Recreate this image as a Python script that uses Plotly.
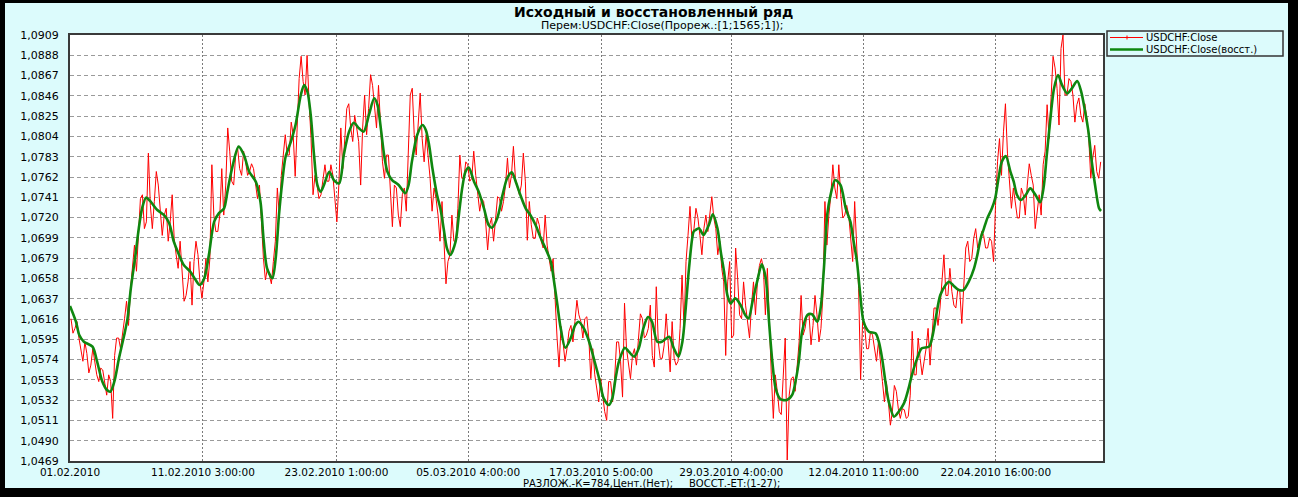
import plotly.graph_objects as go

# ---------------- data ----------------
x_tick_vals = [0, 201, 403, 602, 803, 1000, 1200, 1400]
x_tick_text = ["01.02.2010", "11.02.2010 3:00:00", "23.02.2010 1:00:00", "05.03.2010 4:00:00",
               "17.03.2010 5:00:00", "29.03.2010 4:00:00", "12.04.2010 11:00:00", "22.04.2010 16:00:00"]
y_tick_text = ["1,0469", "1,0490", "1,0511", "1,0532", "1,0553", "1,0574", "1,0595", "1,0616",
               "1,0637", "1,0658", "1,0679", "1,0699", "1,0720", "1,0741", "1,0762", "1,0783",
               "1,0804", "1,0825", "1,0846", "1,0867", "1,0888", "1,0909"]
y_min, y_max = 1.0469, 1.0909
x_max = 1562

# red series (USDCHF:Close): bins every 6 hourly points, upper / lower extent of the hourly trace
red_idx = list(range(3, 3 + 6 * 260, 6))
red_hi = [
    1.0616, 1.0613, 1.0596, 1.0592, 1.0580, 1.0585, 1.0572, 1.0565, 1.0563, 1.0558,
    1.0551, 1.0596, 1.0596, 1.0616, 1.0634, 1.0668, 1.0692, 1.0740, 1.0744, 1.0787,
    1.0733, 1.0768, 1.0754, 1.0723, 1.0730, 1.0744, 1.0699, 1.0696, 1.0658, 1.0654,
    1.0675, 1.0696, 1.0682, 1.0654, 1.0678, 1.0775, 1.0723, 1.0723, 1.0771, 1.0813,
    1.0789, 1.0785, 1.0792, 1.0789, 1.0778, 1.0776, 1.0771, 1.0754, 1.0709, 1.0668,
    1.0661,
    1.0696, 1.0751, 1.0782, 1.0806, 1.0819, 1.0806, 1.0864, 1.0887, 1.0888, 1.0840,
    1.0764, 1.0754, 1.0758, 1.0775, 1.0775, 1.0764, 1.0754, 1.0813, 1.0833, 1.0838,
    1.0826, 1.0813, 1.0813, 1.0847, 1.0868, 1.0857, 1.0857, 1.0809, 1.0785, 1.0785,
    1.0754, 1.0751, 1.0744, 1.0751, 1.0847, 1.0854, 1.0813, 1.0849, 1.0806, 1.0785,
    1.0751, 1.0740, 1.0737, 1.0696, 1.0682, 1.0723, 1.0730, 1.0785, 1.0778, 1.0775,
    1.0789, 1.0764, 1.0740,
    1.0737, 1.0713, 1.0720, 1.0742, 1.0740, 1.0754, 1.0782, 1.0794, 1.0761, 1.0754,
    1.0787, 1.0737, 1.0713, 1.0720, 1.0713, 1.0723, 1.0692, 1.0678, 1.0630, 1.0608,
    1.0592, 1.0603, 1.0609, 1.0635, 1.0620, 1.0616, 1.0618, 1.0585, 1.0558, 1.0554,
    1.0537, 1.0551, 1.0551, 1.0592, 1.0592, 1.0632, 1.0585, 1.0578, 1.0585, 1.0621,
    1.0616, 1.0606, 1.0630, 1.0649, 1.0592, 1.0589, 1.0621, 1.0613, 1.0575, 1.0606,
    1.0661, 1.0702, 1.0732,
    1.0730, 1.0720, 1.0709, 1.0723, 1.0742, 1.0720, 1.0696, 1.0668, 1.0654, 1.0675,
    1.0689, 1.0658, 1.0654, 1.0630, 1.0630, 1.0654, 1.0671, 1.0678, 1.0668, 1.0606,
    1.0558, 1.0541, 1.0558, 1.0596, 1.0554, 1.0556, 1.0592, 1.0640, 1.0620, 1.0620,
    1.0640, 1.0620, 1.0640, 1.0737, 1.0744, 1.0775, 1.0775, 1.0744, 1.0733, 1.0723,
    1.0737, 1.0682, 1.0613, 1.0609, 1.0603, 1.0599, 1.0592, 1.0568, 1.0551, 1.0530,
    1.0547, 1.0541, 1.0523,
    1.0522, 1.0537, 1.0603, 1.0596, 1.0575, 1.0585, 1.0606, 1.0627, 1.0627, 1.0654,
    1.0682, 1.0668, 1.0644, 1.0647, 1.0644, 1.0689, 1.0696, 1.0699, 1.0709, 1.0706,
    1.0702, 1.0699, 1.0696, 1.0778, 1.0802, 1.0838, 1.0787, 1.0751, 1.0733, 1.0751,
    1.0744, 1.0776, 1.0764, 1.0730, 1.0744, 1.0789, 1.0837, 1.0887, 1.0875, 1.0895,
    1.0909, 1.0864, 1.0861, 1.0837, 1.0844, 1.0838, 1.0823, 1.0782, 1.0795, 1.0778,
]
red_lo = [
    1.0601, 1.0606, 1.0585, 1.0572, 1.0560, 1.0568, 1.0558, 1.0551, 1.0547, 1.0537,
    1.0513, 1.0578, 1.0585, 1.0599, 1.0609, 1.0647, 1.0665, 1.0702, 1.0709, 1.0716,
    1.0709, 1.0737, 1.0723, 1.0702, 1.0696, 1.0716, 1.0682, 1.0668, 1.0634, 1.0640,
    1.0630, 1.0675, 1.0654, 1.0637, 1.0654, 1.0678, 1.0706, 1.0706, 1.0723, 1.0754,
    1.0758, 1.0754, 1.0771, 1.0764, 1.0764, 1.0768, 1.0754, 1.0740, 1.0678, 1.0656,
    1.0652,
    1.0675, 1.0723, 1.0764, 1.0785, 1.0785, 1.0763, 1.0813, 1.0861, 1.0847, 1.0802,
    1.0744, 1.0740, 1.0744, 1.0758, 1.0758, 1.0740, 1.0716, 1.0771, 1.0806, 1.0813,
    1.0799, 1.0799, 1.0754, 1.0806, 1.0833, 1.0833, 1.0813, 1.0778, 1.0761, 1.0751,
    1.0711, 1.0723, 1.0711, 1.0727, 1.0795, 1.0806, 1.0785, 1.0802, 1.0778, 1.0761,
    1.0727, 1.0723, 1.0696, 1.0652, 1.0675, 1.0696, 1.0696, 1.0761, 1.0761, 1.0758,
    1.0761, 1.0744, 1.0727,
    1.0716, 1.0687, 1.0696, 1.0723, 1.0727, 1.0737, 1.0751, 1.0764, 1.0751, 1.0744,
    1.0758, 1.0697, 1.0699, 1.0699, 1.0696, 1.0689, 1.0678, 1.0665, 1.0596, 1.0566,
    1.0572, 1.0585, 1.0592, 1.0613, 1.0613, 1.0596, 1.0596, 1.0554, 1.0541, 1.0530,
    1.0520, 1.0511, 1.0530, 1.0554, 1.0572, 1.0535, 1.0572, 1.0554, 1.0568, 1.0592,
    1.0596, 1.0599, 1.0578, 1.0566, 1.0575, 1.0575, 1.0585, 1.0561, 1.0568, 1.0572,
    1.0606, 1.0675, 1.0696,
    1.0709, 1.0702, 1.0682, 1.0706, 1.0723, 1.0709, 1.0682, 1.0654, 1.0578, 1.0596,
    1.0599, 1.0620, 1.0616, 1.0613, 1.0596, 1.0620, 1.0654, 1.0668, 1.0620, 1.0558,
    1.0513, 1.0520, 1.0517, 1.0470, 1.0537, 1.0541, 1.0565, 1.0599, 1.0606, 1.0589,
    1.0609, 1.0592, 1.0606, 1.0692, 1.0723, 1.0751, 1.0740, 1.0720, 1.0723, 1.0696,
    1.0675, 1.0647, 1.0553, 1.0585, 1.0585, 1.0585, 1.0572, 1.0551, 1.0530, 1.0506,
    1.0520, 1.0523, 1.0513,
    1.0513, 1.0515, 1.0558, 1.0558, 1.0558, 1.0572, 1.0568, 1.0599, 1.0609, 1.0627,
    1.0640, 1.0640, 1.0630, 1.0627, 1.0611, 1.0654, 1.0675, 1.0678, 1.0689, 1.0692,
    1.0689, 1.0689, 1.0675, 1.0733, 1.0764, 1.0809, 1.0761, 1.0730, 1.0720, 1.0720,
    1.0723, 1.0754, 1.0754, 1.0709, 1.0723, 1.0775, 1.0802, 1.0840, 1.0854, 1.0816,
    1.0847, 1.0847, 1.0847, 1.0819, 1.0826, 1.0819, 1.0802, 1.0761, 1.0768, 1.0761,
]

# green series (USDCHF:Close(восст.)) : reconstructed smooth series
green_idx = [
    0, 9, 14, 21, 34, 41, 49, 56, 61, 67, 74, 82, 87, 92, 99, 104, 109, 115, 122, 132,
    142, 150, 157, 165, 172, 182, 190, 196, 203, 210, 218, 225, 233, 238, 245, 255, 263, 271, 281, 288,
    293, 298, 306, 311, 316, 321, 326, 334, 341, 349, 354, 359, 364, 369, 374, 379, 384, 392, 399, 407,
    414, 422, 429, 437, 444, 452, 460, 465, 470, 475, 480, 487, 497, 507, 512, 517, 525, 533, 538, 543,
    548, 555, 560, 565, 570, 575, 583, 588, 593, 598, 603, 611, 618, 626, 633, 638, 646, 654, 661, 668,
    674, 681, 689, 696, 704, 712, 719, 727, 732, 737, 742, 749, 757, 764, 769, 777, 785, 792, 800, 807,
    815, 820, 825, 830, 839, 845, 853, 860, 867, 874, 880, 888, 895, 906, 913, 920, 926, 931, 936, 943,
    946, 951, 958, 966, 972, 979, 984, 989, 994, 999, 1006, 1014, 1021, 1026, 1032, 1039, 1046, 1052, 1057, 1062,
    1067, 1074, 1084, 1092, 1097, 1102, 1107, 1115, 1122, 1130, 1135, 1140, 1145, 1150, 1157, 1165, 1173, 1180, 1185, 1190,
    1195, 1200, 1208, 1218, 1223, 1228, 1233, 1238, 1246, 1253, 1261, 1268, 1273, 1281, 1288, 1299, 1304, 1309, 1316, 1324,
    1329, 1336, 1344, 1351, 1359, 1367, 1372, 1377, 1382, 1387, 1394, 1399, 1404, 1409, 1415, 1422, 1427, 1432, 1438, 1445,
    1452, 1460, 1467, 1472, 1477, 1482, 1488, 1494, 1500, 1508, 1515, 1523, 1529, 1535, 1540, 1545, 1550, 1556, 1559,
]
green_val = [
    1.06291, 1.06129, 1.05991, 1.05922, 1.05871, 1.05716, 1.05509, 1.05423, 1.05406, 1.05509,
    1.05750, 1.05991, 1.06163, 1.06473, 1.06818, 1.07093, 1.07300, 1.07410, 1.07368, 1.07282,
    1.07231, 1.07145, 1.06955, 1.06818, 1.06714, 1.06645, 1.06559, 1.06508, 1.06577, 1.06818,
    1.07162, 1.07248, 1.07300, 1.07472, 1.07713, 1.07937, 1.07851, 1.07678, 1.07575, 1.07368,
    1.06955, 1.06680, 1.06577, 1.06783, 1.07231, 1.07575, 1.07833, 1.07988, 1.08160, 1.08470,
    1.08574, 1.08505, 1.08264, 1.07851, 1.07541, 1.07472, 1.07541, 1.07678, 1.07592, 1.07558,
    1.07851, 1.08092, 1.08184, 1.08126, 1.08092, 1.08264, 1.08436, 1.08367, 1.08126, 1.07851,
    1.07678, 1.07592, 1.07541, 1.07455, 1.07541, 1.07782, 1.08057, 1.08160, 1.08109, 1.07954,
    1.07713, 1.07437, 1.07300, 1.07093, 1.06886, 1.06818, 1.06955, 1.07231, 1.07506, 1.07678,
    1.07720, 1.07575, 1.07472, 1.07300, 1.07128, 1.07100, 1.07196, 1.07437, 1.07610, 1.07671,
    1.07575, 1.07437, 1.07300, 1.07231, 1.07128, 1.06990, 1.06886, 1.06749, 1.06542, 1.06301,
    1.06060, 1.05860, 1.05957, 1.06095, 1.06129, 1.06060, 1.05922, 1.05750, 1.05544, 1.05337,
    1.05268, 1.05337, 1.05544, 1.05716, 1.05860, 1.05819, 1.05768, 1.05854, 1.06060, 1.06177,
    1.06129, 1.05922, 1.05922, 1.05974, 1.05854, 1.05768, 1.05922, 1.06267, 1.06680, 1.07059,
    1.07076, 1.07093, 1.07024, 1.07128, 1.07238, 1.07093, 1.06852, 1.06645, 1.06404, 1.06318,
    1.06370, 1.06301, 1.06198, 1.06163, 1.06336, 1.06542, 1.06721, 1.06577, 1.06129, 1.05716,
    1.05440, 1.05330, 1.05320, 1.05372, 1.05509, 1.05716, 1.06026, 1.06198, 1.06205, 1.06129,
    1.06267, 1.06680, 1.07231, 1.07437, 1.07592, 1.07541, 1.07300, 1.07162, 1.06955, 1.06749,
    1.06404, 1.06129, 1.06026, 1.06009, 1.05922, 1.05750, 1.05509, 1.05303, 1.05148, 1.05199,
    1.05285, 1.05440, 1.05578, 1.05750, 1.05854, 1.05871, 1.05974, 1.06163, 1.06404, 1.06508,
    1.06542, 1.06501, 1.06456, 1.06456, 1.06542, 1.06680, 1.06818, 1.06990, 1.07093, 1.07196,
    1.07300, 1.07403, 1.07610, 1.07782, 1.07840, 1.07678, 1.07575, 1.07437, 1.07386, 1.07437,
    1.07506, 1.07437, 1.07362, 1.07506, 1.07851, 1.08195, 1.08539, 1.08677, 1.08574, 1.08487,
    1.08539, 1.08615, 1.08505, 1.08298, 1.08092, 1.07782, 1.07541, 1.07300, 1.07272,
]
assert len(red_hi) == len(red_lo) == len(red_idx)
assert len(green_idx) == len(green_val)

series_names = ["USDCHF:Close", "USDCHF:Close(восст.)"]
title_text = "Исходный и восстановленный ряд"
subtitle_text = "Перем:USDCHF:Close(Прореж.:[1;1565;1]);"
caption_left = "РАЗЛОЖ.-К=784,Цент.(Нет);"
caption_right = "ВОССТ.-ЕТ:(1-27);"

# ---------------- figure ----------------
W, H = 1298, 497
L, R, T, B = 70, 195, 35, 36
PW, PH = W - L - R, H - T - B
FONT = "DejaVu Sans"
BG = "#dcfbfc"


def fx(px):
    return (px - L) / PW


def fy(py):
    return (H - B - py) / PH


# red hourly trace: zig-zag through each bin's upper and lower extent
rx, ry = [], []
for n, (i, h, l) in enumerate(zip(red_idx, red_hi, red_lo)):
    a, b = (h, l) if n % 2 == 0 else (l, h)
    rx += [i - 1.5, i + 1.5]
    ry += [a, b]

fig = go.Figure()
fig.add_trace(go.Scatter(x=rx, y=ry, mode="lines", name=series_names[0],
                         line=dict(color="#ff0000", width=1), showlegend=False,
                         hoverinfo="skip"))
fig.add_trace(go.Scatter(x=green_idx, y=green_val, mode="lines", name=series_names[1],
                         line=dict(color="#0f870f", width=2.6, shape="spline", smoothing=0.8),
                         showlegend=False, hoverinfo="skip"))

y_tick_vals = [y_min + k * (y_max - y_min) / (len(y_tick_text) - 1) for k in range(len(y_tick_text))]

fig.update_layout(
    width=W, height=H, autosize=False,
    margin=dict(l=L, r=R, t=T, b=B, pad=0),
    paper_bgcolor=BG, plot_bgcolor="white",
    font=dict(family=FONT, size=11, color="black"),
    xaxis=dict(range=[0, x_max], tickmode="array", tickvals=x_tick_vals, ticktext=x_tick_text,
               showgrid=True, gridcolor="#7a7a7a", gridwidth=1, griddash="2px,2px",
               zeroline=False, showline=True, mirror=True, linecolor="#3a3a3a", linewidth=2,
               ticks="", tickfont=dict(family=FONT, size=10.5, color="black"), ticklabelstandoff=0),
    yaxis=dict(range=[y_min, y_max], tickmode="array", tickvals=y_tick_vals, ticktext=y_tick_text,
               showgrid=True, gridcolor="#9a9a9a", gridwidth=1, griddash="4px,3px",
               zeroline=False, showline=True, mirror=True, linecolor="#3a3a3a", linewidth=2,
               ticks="", tickfont=dict(family=FONT, size=11, color="black"), ticklabelstandoff=7),
)

shapes = []
# black window frame
for (x0, x1, y0, y1) in [(-2, 5, -2, H + 2), (-2, W + 2, -2, 3), (1288, W + 2, -2, H + 2), (-2, W + 2, 488, H + 2)]:
    shapes.append(dict(type="rect", xref="paper", yref="paper", x0=fx(x0), x1=fx(x1), y0=fy(y0), y1=fy(y1),
                       fillcolor="black", line=dict(width=0), layer="above"))
# legend box
shapes.append(dict(type="rect", xref="paper", yref="paper", x0=fx(1107), x1=fx(1283), y0=fy(31), y1=fy(56),
                   fillcolor=BG, line=dict(color="#333333", width=1.5), layer="above"))
shapes.append(dict(type="line", xref="paper", yref="paper", x0=fx(1110), x1=fx(1143), y0=fy(37.5), y1=fy(37.5),
                   line=dict(color="#ff0000", width=1), layer="above"))
shapes.append(dict(type="line", xref="paper", yref="paper", x0=fx(1127), x1=fx(1127), y0=fy(35.5), y1=fy(39.5),
                   line=dict(color="#ff0000", width=1), layer="above"))
shapes.append(dict(type="line", xref="paper", yref="paper", x0=fx(1110), x1=fx(1143), y0=fy(49.5), y1=fy(49.5),
                   line=dict(color="#0f870f", width=2.6), layer="above"))

annotations = [
    dict(text="<b>" + title_text + "</b>", x=fx(653), y=fy(12), xanchor="center", yanchor="middle",
         font=dict(family=FONT, size=14, color="black")),
    dict(text=subtitle_text, x=fx(662), y=fy(25.5), xanchor="center", yanchor="middle",
         font=dict(family=FONT, size=11, color="black")),
    dict(text=caption_left, x=fx(674), y=fy(483.5), xanchor="right", yanchor="middle",
         font=dict(family=FONT, size=10, color="black")),
    dict(text=caption_right, x=fx(688), y=fy(483.5), xanchor="left", yanchor="middle",
         font=dict(family=FONT, size=10, color="black")),
    dict(text=series_names[0], x=fx(1145), y=fy(37.5), xanchor="left", yanchor="middle",
         font=dict(family=FONT, size=10, color="black")),
    dict(text=series_names[1], x=fx(1145), y=fy(49.5), xanchor="left", yanchor="middle",
         font=dict(family=FONT, size=10, color="black")),
]
for a in annotations:
    a.update(xref="paper", yref="paper", showarrow=False, borderpad=0)

fig.update_layout(shapes=shapes, annotations=annotations)
fig.write_html("out.html",
               config={"displayModeBar": False},
               post_script="document.body.style.margin='0px';document.body.style.overflow='hidden';")
